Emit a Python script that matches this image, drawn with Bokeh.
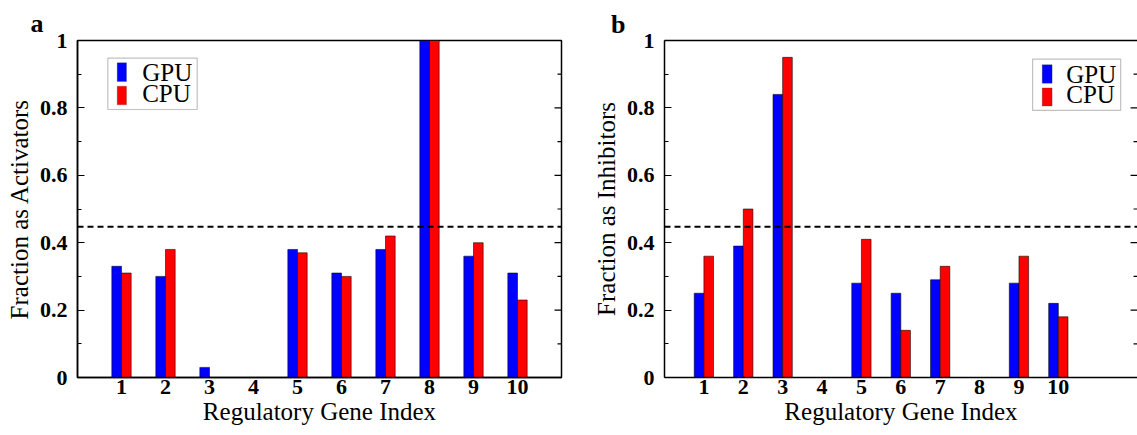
from bokeh.plotting import figure
from bokeh.models import (Range1d, FixedTicker, LinearAxis, Span, BoxAnnotation,
                          Label, CustomJSTickFormatter, ColumnDataSource)
from bokeh.layouts import row
from bokeh.transform import dodge
from bokeh.embed import file_html
from bokeh.resources import INLINE

# ---------------- data ----------------
genes = [1, 2, 3, 4, 5, 6, 7, 8, 9, 10]
act_gpu = [0.33, 0.30, 0.03, 0.0, 0.38, 0.31, 0.38, 1.00, 0.36, 0.31]
act_cpu = [0.31, 0.38, 0.0, 0.0, 0.37, 0.30, 0.42, 1.00, 0.40, 0.23]
inh_gpu = [0.25, 0.39, 0.84, 0.0, 0.28, 0.25, 0.29, 0.0, 0.28, 0.22]
inh_cpu = [0.36, 0.50, 0.95, 0.0, 0.41, 0.14, 0.33, 0.0, 0.36, 0.18]
series_names = ["GPU", "CPU"]
series_colors = ["#0000ff", "#ff0000"]
threshold = 0.447
y_major = [0, 0.2, 0.4, 0.6, 0.8, 1.0]
y_minor = [0.1, 0.3, 0.5, 0.7, 0.9]
xlabel = "Regulatory Gene Index"
ylabels = ["Fraction as Activators", "Fraction as Inhibitors"]
panel_letters = ["a", "b"]

FONT = "Liberation Serif"
H = 435


def make_panel(letter, ylabel, gpu, cpu, width, xmax, bar_w, border, spacing,
               px2x, px2y, legend_px, outline, letter_cfg):
    left, right, top, bottom = border
    p = figure(width=width, height=H, x_range=Range1d(0, xmax), y_range=Range1d(0, 1),
               output_backend="svg", toolbar_location=None,
               min_border_left=left, min_border_right=right,
               min_border_top=top, min_border_bottom=bottom)
    p.background_fill_color = "white"
    p.border_fill_color = "white"
    p.xgrid.visible = False
    p.ygrid.visible = False
    if outline:
        p.outline_line_color = "black"
        p.outline_line_width = 1.5
    else:
        p.outline_line_color = None

    # panel letter as title
    p.title.text = letter
    p.title.align = "left"
    p.title.offset = letter_cfg[0]
    p.title.standoff = letter_cfg[1]
    p.title.text_font = FONT
    p.title.text_font_style = "bold"
    p.title.text_font_size = "26px"
    p.title.text_color = "black"

    src = ColumnDataSource(dict(gene=genes, gpu=gpu, cpu=cpu))
    p.vbar(x=dodge("gene", -bar_w / 2, range=p.x_range), top="gpu", width=bar_w,
           bottom=0, source=src, fill_color=series_colors[0],
           line_color="black", line_alpha=0.55, line_width=1)
    p.vbar(x=dodge("gene", bar_w / 2, range=p.x_range), top="cpu", width=bar_w,
           bottom=0, source=src, fill_color=series_colors[1],
           line_color="black", line_alpha=0.55, line_width=1)

    p.add_layout(Span(location=threshold, dimension="width", line_color="black",
                      line_width=2, line_dash="6 4"))

    # x axis
    xa = p.xaxis[0]
    xa.ticker = FixedTicker(ticks=genes)
    xa.major_tick_in = 0
    xa.major_tick_out = 0
    xa.minor_tick_in = 0
    xa.minor_tick_out = 0
    xa.axis_line_color = "black"
    xa.axis_line_width = 1.5
    xa.major_label_standoff = 2
    xa.major_label_text_font = FONT
    xa.major_label_text_font_style = "bold"
    xa.major_label_text_font_size = "22px"
    xa.major_label_text_color = "black"
    xa.axis_label = xlabel
    xa.axis_label_standoff = 1
    xa.axis_label_text_font = FONT
    xa.axis_label_text_font_style = "normal"
    xa.axis_label_text_font_size = "25px"
    xa.axis_label_text_color = "black"

    fmt = CustomJSTickFormatter(code="return String(Math.round(tick*10)/10);")
    ya = p.yaxis[0]
    ya.ticker = FixedTicker(ticks=y_major, minor_ticks=y_minor)
    ya.formatter = fmt
    ya.major_tick_in = 7
    ya.major_tick_out = 0
    ya.minor_tick_in = 4
    ya.minor_tick_out = 0
    ya.axis_line_color = "black"
    ya.axis_line_width = 1.5
    ya.major_label_standoff = 10
    ya.major_label_text_font = FONT
    ya.major_label_text_font_style = "bold"
    ya.major_label_text_font_size = "22px"
    ya.major_label_text_color = "black"
    ya.axis_label = ylabel
    ya.axis_label_standoff = 4
    ya.axis_label_text_font = FONT
    ya.axis_label_text_font_style = "normal"
    ya.axis_label_text_font_size = "25px"
    ya.axis_label_text_color = "black"

    # inward tick marks on the right edge of the frame
    maj_len = 7.0 / spacing
    min_len = 4.0 / spacing
    p.segment(x0=[xmax] * len(y_major), x1=[xmax - maj_len] * len(y_major),
              y0=y_major, y1=y_major, line_color="black", line_width=1.2)
    p.segment(x0=[xmax] * len(y_minor), x1=[xmax - min_len] * len(y_minor),
              y0=y_minor, y1=y_minor, line_color="black", line_width=1.2)

    if not outline:
        ta = LinearAxis(ticker=FixedTicker(ticks=[]), major_tick_in=0, major_tick_out=0,
                        minor_tick_in=0, minor_tick_out=0, major_label_standoff=0,
                        axis_line_color="black", axis_line_width=1.5)
        p.add_layout(ta, "above")

    # legend (drawn by hand)
    (bl, bt, br, bb), glyph_l, glyph_r, rows, text_l = legend_px
    p.add_layout(BoxAnnotation(left=px2x(bl), right=px2x(br), top=px2y(bt), bottom=px2y(bb),
                               fill_color="white", fill_alpha=1, line_color="#333333",
                               line_width=1.2, level="overlay", editable=False))
    for name, color, (gt, gb, base) in zip(series_names, series_colors, rows):
        p.add_layout(BoxAnnotation(left=px2x(glyph_l), right=px2x(glyph_r),
                                   top=px2y(gt), bottom=px2y(gb), fill_color=color,
                                   fill_alpha=1, line_color="#333333", line_width=0.8,
                                   level="overlay", editable=False))
        p.add_layout(Label(x=px2x(text_l), y=px2y(base - 9.0), text=name, text_font=FONT,
                           text_font_size="25px", text_color="black",
                           text_baseline="alphabetic", level="overlay"))
    return p


def converter(fl, spacing, ft, fb):
    def px2x(px):
        return (px - fl) / spacing

    def px2y(py):
        return (fb - py) / (fb - ft)
    return px2x, px2y


# panel a geometry (pixels of the reference picture)
A_SP = (561.0 - 77.0) / 11.0
ax_x, ax_y = converter(77.0, A_SP, 40.0, 377.0)
pa = make_panel(panel_letters[0], ylabels[0], act_gpu, act_cpu, width=589, xmax=11,
                bar_w=0.22, border=(77, 28, 40, 58), spacing=A_SP, px2x=ax_x, px2y=ax_y,
                legend_px=((107.3, 57.7, 196.7, 109.0), 116.7, 126.0,
                           [(62.3, 81.0, 81.0), (85.7, 104.3, 101.7)], 141.7),
                outline=True, letter_cfg=(-47.0, 5))

# panel b geometry
B_SP = 39.8
bx_x, bx_y = converter(659.0, B_SP, 38.0, 377.0)
pb = make_panel(panel_letters[1], ylabels[1], inh_gpu, inh_cpu, width=548,
                xmax=(1137.0 - 659.0) / B_SP, bar_w=0.245, border=(70, 0, 38, 58),
                spacing=B_SP, px2x=bx_x, px2y=bx_y,
                legend_px=((1031.0, 56.7, 1120.0, 108.3), 1040.7, 1050.7,
                           [(62.3, 81.0, 81.0), (85.7, 104.0, 101.0)], 1065.0),
                outline=False, letter_cfg=(-53.5, 3))

layout = row(pa, pb)
open("out.html", "w").write(file_html(layout, INLINE))
